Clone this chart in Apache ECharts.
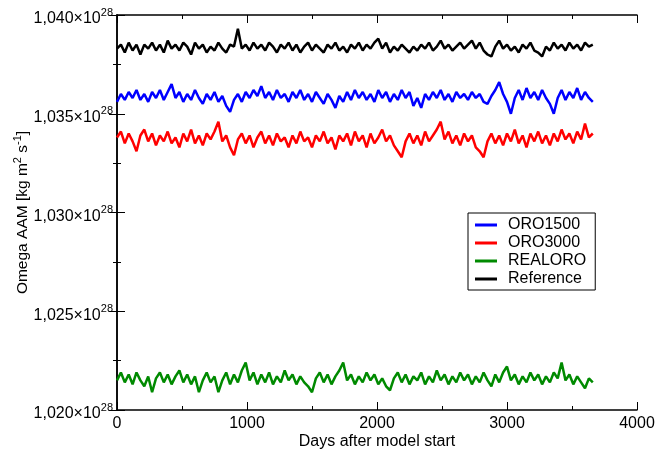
<!DOCTYPE html>
<html>
<head>
<meta charset="utf-8">
<script src="https://cdn.jsdelivr.net/npm/echarts@6/dist/echarts.min.js"></script>
<style>
html, body { margin: 0; padding: 0; background: #fff; }
#chart { width: 656px; height: 451px; }
</style>
</head>
<body>
<div id="chart"></div>
<script>
// sampled every 30 days, values in units of 10^28 kg m^2 s^-1
const STEP = 30;

const reference = [
    1.0383, 1.0385, 1.0381, 1.0386, 1.0382, 1.0385, 1.0380, 1.0385, 1.0383, 1.0386,
    1.0382, 1.0385, 1.0381, 1.0387, 1.0383, 1.0385, 1.0382, 1.0386, 1.0384, 1.0380,
    1.0386, 1.0383, 1.0385, 1.0381, 1.0384, 1.0382, 1.0386, 1.0383, 1.0381, 1.0385,
    1.0384, 1.0393, 1.0383, 1.0385, 1.0382, 1.0386, 1.0383, 1.0385, 1.0382, 1.0386,
    1.0384, 1.0381, 1.0385, 1.0383, 1.0386, 1.0382, 1.0385, 1.0381, 1.0384, 1.0386,
    1.0382, 1.0385, 1.0383, 1.0381, 1.0385, 1.0383, 1.0386, 1.0382, 1.0384, 1.0381,
    1.0385, 1.0383, 1.0386, 1.0382, 1.0385, 1.0383, 1.0386, 1.0388, 1.0383, 1.0386,
    1.0381, 1.0384, 1.0382, 1.0385, 1.0383, 1.0381, 1.0384, 1.0382, 1.0385, 1.0383,
    1.0386, 1.0382, 1.0384, 1.0387, 1.0383, 1.0385, 1.0382, 1.0384, 1.0386, 1.0383,
    1.0385, 1.0387, 1.0383, 1.0386, 1.0382, 1.0380, 1.0379, 1.0384, 1.0387, 1.0383,
    1.0385, 1.0382, 1.0384, 1.0381, 1.0385, 1.0383, 1.0386, 1.0382, 1.0381, 1.0379,
    1.0384, 1.0382, 1.0386, 1.0383, 1.0385, 1.0382, 1.0386, 1.0383, 1.0385, 1.0382,
    1.0386, 1.0384, 1.0385
];

const oro1500 = [
    1.0356, 1.0360, 1.0357, 1.0361, 1.0358, 1.0362, 1.0357, 1.0360, 1.0356, 1.0361,
    1.0358, 1.0362, 1.0357, 1.0361, 1.0365, 1.0358, 1.0361, 1.0356, 1.0360, 1.0357,
    1.0362, 1.0358, 1.0355, 1.0360, 1.0357, 1.0361, 1.0356, 1.0359, 1.0354, 1.0351,
    1.0357, 1.0360, 1.0356, 1.0361, 1.0358, 1.0362, 1.0359, 1.0364, 1.0358, 1.0361,
    1.0357, 1.0362, 1.0358, 1.0360, 1.0356, 1.0361, 1.0358, 1.0362, 1.0357, 1.0360,
    1.0356, 1.0361, 1.0358, 1.0355, 1.0360, 1.0357, 1.0353, 1.0359, 1.0356, 1.0361,
    1.0357, 1.0362, 1.0358, 1.0361, 1.0357, 1.0360, 1.0356, 1.0362, 1.0358, 1.0361,
    1.0356, 1.0360, 1.0357, 1.0362, 1.0358, 1.0361, 1.0354, 1.0358, 1.0353, 1.0360,
    1.0357, 1.0361, 1.0358, 1.0362, 1.0357, 1.0360, 1.0356, 1.0361, 1.0358, 1.0360,
    1.0357, 1.0361, 1.0358, 1.0360, 1.0356, 1.0355, 1.0359, 1.0362, 1.0366, 1.0360,
    1.0356, 1.0350, 1.0358, 1.0362, 1.0357, 1.0363, 1.0358, 1.0361, 1.0357, 1.0362,
    1.0358, 1.0355, 1.0350, 1.0358, 1.0362, 1.0357, 1.0361, 1.0358, 1.0363, 1.0357,
    1.0361, 1.0358, 1.0356
];

const oro3000 = [
    1.0338, 1.0341, 1.0335, 1.0340, 1.0336, 1.0331, 1.0339, 1.0342, 1.0336, 1.0340,
    1.0334, 1.0339, 1.0336, 1.0341, 1.0335, 1.0338, 1.0333, 1.0340, 1.0336, 1.0342,
    1.0335, 1.0339, 1.0334, 1.0340, 1.0337, 1.0341, 1.0346, 1.0336, 1.0339, 1.0333,
    1.0329, 1.0337, 1.0340, 1.0335, 1.0339, 1.0333, 1.0338, 1.0341, 1.0335, 1.0339,
    1.0334, 1.0340, 1.0336, 1.0338, 1.0333, 1.0339, 1.0335, 1.0341, 1.0336, 1.0338,
    1.0333, 1.0339, 1.0336, 1.0341, 1.0335, 1.0338, 1.0332, 1.0339, 1.0336, 1.0340,
    1.0334, 1.0341, 1.0336, 1.0339, 1.0333, 1.0340, 1.0335, 1.0338, 1.0342, 1.0336,
    1.0339, 1.0334, 1.0331, 1.0328, 1.0336, 1.0340, 1.0335, 1.0339, 1.0334, 1.0341,
    1.0336, 1.0339, 1.0342, 1.0346, 1.0337, 1.0341, 1.0335, 1.0339, 1.0334, 1.0340,
    1.0336, 1.0339, 1.0333, 1.0331, 1.0328, 1.0336, 1.0340, 1.0335, 1.0339, 1.0334,
    1.0340, 1.0336, 1.0342, 1.0335, 1.0339, 1.0333, 1.0340, 1.0336, 1.0341, 1.0335,
    1.0339, 1.0334, 1.0340, 1.0336, 1.0342, 1.0337, 1.0340, 1.0335, 1.0341, 1.0337,
    1.0345, 1.0338, 1.0340
];

const realoro = [
    1.0215, 1.0219, 1.0214, 1.0218, 1.0213, 1.0219, 1.0215, 1.0212, 1.0217, 1.0209,
    1.0216, 1.0219, 1.0214, 1.0218, 1.0213, 1.0217, 1.0220, 1.0214, 1.0218, 1.0213,
    1.0217, 1.0209, 1.0215, 1.0219, 1.0214, 1.0217, 1.0209, 1.0215, 1.0219, 1.0213,
    1.0218, 1.0214, 1.0220, 1.0224, 1.0215, 1.0219, 1.0213, 1.0218, 1.0214, 1.0219,
    1.0213, 1.0217, 1.0214, 1.0220, 1.0215, 1.0218, 1.0213, 1.0217, 1.0214, 1.0212,
    1.0209, 1.0216, 1.0219, 1.0214, 1.0218, 1.0213, 1.0217, 1.0220, 1.0224, 1.0215,
    1.0218, 1.0213, 1.0217, 1.0214, 1.0219, 1.0215, 1.0218, 1.0213, 1.0216, 1.0212,
    1.0210, 1.0216, 1.0219, 1.0214, 1.0218, 1.0213, 1.0217, 1.0215, 1.0219, 1.0213,
    1.0217, 1.0214, 1.0220, 1.0215, 1.0218, 1.0213, 1.0217, 1.0214, 1.0219, 1.0215,
    1.0218, 1.0213, 1.0217, 1.0214, 1.0219, 1.0215, 1.0212, 1.0218, 1.0214, 1.0219,
    1.0222, 1.0215, 1.0218, 1.0213, 1.0217, 1.0214, 1.0219, 1.0215, 1.0218, 1.0213,
    1.0217, 1.0214, 1.0219, 1.0216, 1.0224, 1.0215, 1.0218, 1.0213, 1.0217, 1.0214,
    1.0211, 1.0216, 1.0214
];

const seriesNames = ["ORO1500", "ORO3000", "REALORO", "Reference"];
const seriesColors = ["#0000ff", "#ff0000", "#008a00", "#000000"];
const seriesValues = [oro1500, oro3000, realoro, reference];

const FONT = "Liberation Sans, Arial, Helvetica, sans-serif";

const toPairs = values => values.map((v, i) => [i * STEP, v]);

const yLabel = value =>
    "{a|" + value.toFixed(3).replace(".", ",") + "×10}{b|28}";

const frameAxis = {
    axisLine: { show: true, lineStyle: { color: "#000", width: 1.5 } },
    axisTick: { show: true, inside: true, length: 8, lineStyle: { color: "#000", width: 1 } },
    minorTick: { show: true, splitNumber: 2, length: 4, lineStyle: { color: "#000", width: 1 } },
    splitLine: { show: false }
};

const chart = echarts.init(document.getElementById("chart"));

chart.setOption({
    animation: false,
    backgroundColor: "#fff",
    textStyle: { fontFamily: FONT },
    grid: {
        left: 117, right: 19, top: 15, bottom: 41,
        containLabel: false,
        outerBoundsMode: "none"
    },
    legend: {
        orient: "vertical",
        left: 468,
        top: 213,
        icon: "rect",
        itemWidth: 22,
        itemHeight: 3,
        itemGap: 0,
        borderColor: "#000",
        borderWidth: 1,
        borderRadius: 0,
        padding: [3, 9, 2, 7],
        textStyle: {
            fontSize: 16, lineHeight: 18, color: "#000", fontFamily: FONT,
            padding: [0, 0, 0, 6]
        },
        data: seriesNames
    },
    xAxis: [
        Object.assign({}, frameAxis, {
            type: "value",
            position: "bottom",
            min: 0,
            max: 4000,
            interval: 1000,
            name: "Days after model start",
            nameLocation: "middle",
            nameGap: 24,
            nameMoveOverlap: false,
            nameTextStyle: { fontSize: 16, color: "#000", fontFamily: FONT },
            axisLabel: {
                fontSize: 16, color: "#000", margin: 6, fontFamily: FONT,
                formatter: v => String(v)
            }
        }),
        Object.assign({}, frameAxis, {
            type: "value",
            position: "top",
            min: 0,
            max: 4000,
            interval: 1000,
            axisLabel: { show: false }
        })
    ],
    yAxis: [
        Object.assign({}, frameAxis, {
            type: "value",
            position: "left",
            min: 1.02,
            max: 1.04,
            interval: 0.005,
            name: "Omega AAM [kg m{s|2} s{s|-1}]",
            nameLocation: "middle",
            nameRotate: 90,
            nameGap: 84,
            nameMoveOverlap: false,
            nameTextStyle: {
                fontSize: 15.5,
                color: "#000",
                fontFamily: FONT,
                rich: { s: { fontSize: 11, color: "#000", fontFamily: FONT, padding: [0, 0, 10, 0] } }
            },
            axisLabel: {
                margin: 4,
                formatter: yLabel,
                rich: {
                    a: { fontSize: 16, lineHeight: 16, color: "#000", fontFamily: FONT, padding: [8, 0, 0, 0] },
                    b: { fontSize: 11, lineHeight: 11, color: "#000", fontFamily: FONT, verticalAlign: "top" }
                }
            }
        }),
        Object.assign({}, frameAxis, {
            type: "value",
            position: "right",
            min: 1.02,
            max: 1.04,
            interval: 0.005,
            axisLabel: { show: false }
        })
    ],
    series: seriesNames.map((name, k) => ({
        name: name,
        type: "line",
        xAxisIndex: 0,
        yAxisIndex: 0,
        symbol: "none",
        color: seriesColors[k],
        lineStyle: { color: seriesColors[k], width: 2.5 },
        data: toPairs(seriesValues[k])
    }))
});
</script>
</body>
</html>
